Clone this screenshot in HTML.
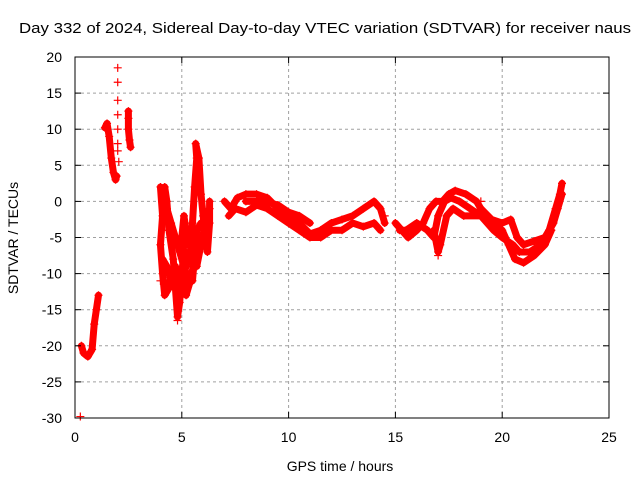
<!DOCTYPE html>
<html><head><meta charset="utf-8"><style>
body{margin:0;background:#fff}
svg text{font-family:"Liberation Sans",sans-serif;font-size:14px;fill:#000}
</style></head><body>
<svg id="c" width="640" height="480" xmlns="http://www.w3.org/2000/svg">
<text x="325" y="33" text-anchor="middle" textLength="612" lengthAdjust="spacingAndGlyphs" style="font-size:15px">Day 332 of 2024, Sidereal Day-to-day VTEC variation (SDTVAR) for receiver naus</text>
<text x="340" y="471" text-anchor="middle">GPS time / hours</text>
<text transform="translate(18,238) rotate(-90)" text-anchor="middle">SDTVAR / TECUs</text>
<g id="grid"></g>
<g id="data"></g>
<rect x="75" y="57" width="534" height="361" fill="none" stroke="#000" stroke-width="1"/>
<g id="axes"></g>
</svg>
<script>
const xTicks=[0,5,10,15,20,25];
const yTicks=[20,15,10,5,0,-5,-10,-15,-20,-25,-30];
const trackA=[[0.3,-20],[0.4,-21],[0.6,-21.5],[0.8,-20.5],[0.9,-17],[1.0,-15],[1.1,-13]];
const trackB=[[1.4,10.2],[1.5,10.8],[1.6,9],[1.7,6],[1.8,4],[1.9,3],[1.95,3.5]];
const trackC=[[2.5,12.5],[2.5,11.5],[2.5,10],[2.55,8.5],[2.6,7.5]];
const trackD=[[4.0,2],[4.1,-2],[4.0,-6],[4.1,-10],[4.2,-13],[4.4,-12],[4.5,-10]];
const trackE=[[4.2,2],[4.3,0],[4.4,-4],[4.6,-8],[4.7,-12],[4.8,-16],[4.9,-14],[5.0,-10],[5.1,-7],[5.0,-5],[5.1,-2],[5.2,-4],[5.3,-6]];
const trackF=[[5.0,-11],[5.2,-9],[5.4,-7],[5.5,-3],[5.6,2],[5.7,6],[5.65,8],[5.8,6],[5.9,1],[6.0,-2],[6.1,-5],[6.2,-7],[6.3,-3],[6.3,0]];
const trackG=[[5.2,-13],[5.4,-11],[5.6,-8],[5.8,-7],[6.0,-5],[6.2,-4],[6.3,-1]];
const trackO=[[4.3,-1],[4.5,-3],[4.7,-5],[4.9,-7],[5.1,-9],[5.3,-8],[5.5,-6],[5.7,-9],[5.9,-6],[6.1,-3]];
const trackP=[[4.1,-8],[4.3,-9],[4.5,-11],[4.7,-9],[4.9,-12],[5.1,-12],[5.3,-10],[5.5,-11],[5.7,-4],[5.9,-3]];
const trackH=[[7.0,0],[7.3,-1],[7.6,0.5],[8.0,1],[8.5,1],[9.0,0.5],[9.5,-1],[10,-2],[10.5,-3],[11,-4.5],[11.5,-4],[12,-3],[12.5,-2.5],[13,-2],[13.5,-1],[14,0],[14.3,-1],[14.5,-3]];
const trackI=[[7.2,-2],[7.5,-1],[8,-1.5],[8.5,-0.5],[9,-1],[9.5,-2],[10,-3],[10.5,-4],[11,-5],[11.5,-5],[12,-4],[12.5,-4],[13,-3],[13.5,-3.5],[14,-3],[14.3,-4]];
const trackJ=[[8,0],[8.8,0],[9.5,-0.5],[10,-1.5],[10.5,-2],[11,-3]];
const trackK=[[15,-3],[15.3,-4],[15.6,-5],[16,-4],[16.3,-3],[16.6,-1],[16.9,0],[17.2,0],[17.5,1],[17.8,1.5],[18.3,1],[18.8,0],[19,-1]];
const trackL=[[15.2,-4],[15.5,-4],[16,-3],[16.5,-4],[16.8,-5],[17,-2],[17.3,0],[17.6,0.5],[18,0],[18.5,-1],[19,-2],[19.5,-3],[20,-4],[20.3,-6],[20.6,-8],[21,-8.5],[21.5,-7.5],[22,-6],[22.3,-4]];
const trackM=[[16.8,-4],[17,-7],[17.1,-6],[17.4,-2],[17.7,-1],[18.2,-2],[19,-2],[19.6,-4],[20,-5],[20.5,-6],[20.8,-7],[21.3,-7],[21.8,-6],[22.2,-4],[22.5,-1],[22.7,1],[22.8,2.5]];
const trackN=[[19,-1],[19.5,-2.5],[20,-3],[20.4,-2.5],[20.7,-5],[21,-6],[21.5,-5.5],[22,-5],[22.4,-3],[22.6,-1],[22.8,1]];
const isolated=[[0.25,-29.8],[2.0,18.5],[2.0,16.5],[2.0,14],[2.0,12],[2.0,10],[2.0,8],[2.0,7],[2.05,5.5],[4.0,-11],[4.8,-16.5],[17,-7.5],[19,0],[14.5,-2]];
const tracks=[trackA,trackB,trackC,trackD,trackE,trackF,trackG,trackO,trackP,trackH,trackI,trackJ,trackK,trackL,trackM,trackN];
const NS="http://www.w3.org/2000/svg";
const X=t=>75+t*534/25, Y=v=>57+(20-v)*361/50;
function mk(tag,attrs,parent){const e=document.createElementNS(NS,tag);for(const k in attrs)e.setAttribute(k,attrs[k]);parent.appendChild(e);return e;}
const grid=document.getElementById('grid'),axes=document.getElementById('axes'),data=document.getElementById('data');
xTicks.forEach(t=>{
  if(t>0&&t<25){const g=mk('line',{x1:X(t),x2:X(t),y1:57,y2:418,stroke:'#a0a0a0','stroke-dasharray':'3,3'},grid);
  
  }
  mk('line',{x1:X(t),x2:X(t),y1:418,y2:412,stroke:'#000'},axes);
  mk('line',{x1:X(t),x2:X(t),y1:57,y2:63,stroke:'#000'},axes);
  const l=mk('text',{x:X(t),y:442,'text-anchor':'middle'},axes);l.textContent=t;
  
  
});
yTicks.forEach(v=>{
  if(v<20&&v>-30){const g=mk('line',{x1:75,x2:609,y1:Y(v),y2:Y(v),stroke:'#a0a0a0','stroke-dasharray':'3,3'},grid);
  
  }
  mk('line',{x1:75,x2:81,y1:Y(v),y2:Y(v),stroke:'#000'},axes);
  mk('line',{x1:609,x2:603,y1:Y(v),y2:Y(v),stroke:'#000'},axes);
  const l=mk('text',{x:62,y:Y(v)+5,'text-anchor':'end'},axes);l.textContent=v;
  
  
});
function plus(t,v){const p=mk('path',{d:`M${X(t)-4},${Y(v)}h8M${X(t)},${Y(v)-4}v8`,stroke:'#f00','stroke-width':1.2},data);
  
  }
tracks.forEach(tr=>{
  const pl=mk('polyline',{points:tr.map(p=>X(p[0])+','+Y(p[1])).join(' '),fill:'none',stroke:'#f00','stroke-width':7,'stroke-linejoin':'round','stroke-linecap':'round'},data);
  
  
  tr.forEach(p=>plus(p[0],p[1]));
});
isolated.forEach(p=>plus(p[0],p[1]));
</script>
</body></html>
